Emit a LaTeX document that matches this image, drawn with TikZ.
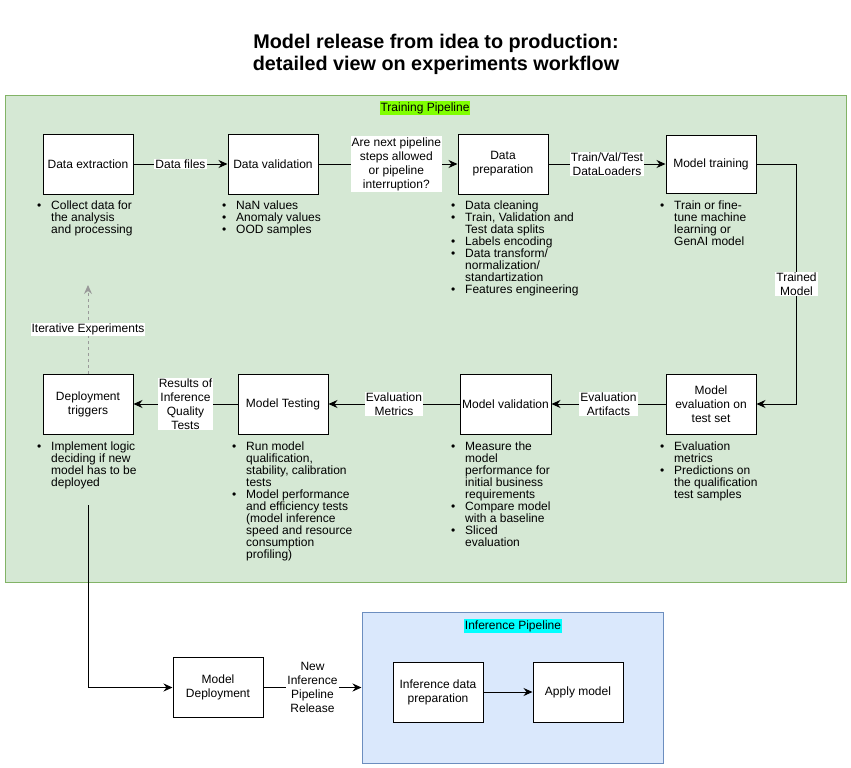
\documentclass[tikz,border=0pt]{standalone}
\usepackage{fontspec}
\setmainfont{Liberation Sans}
\usetikzlibrary{arrows.meta}

\definecolor{trainfill}{HTML}{D5E8D4}
\definecolor{traindraw}{HTML}{82B366}
\definecolor{inferfill}{HTML}{DAE8FC}
\definecolor{inferdraw}{HTML}{6C8EBF}
\definecolor{trainmark}{HTML}{80FF00}
\definecolor{infermark}{HTML}{00FFFF}
\definecolor{iterline}{HTML}{999999}

\newcommand{\bul}{\makebox[14pt][l]{\textbullet}}
\newcommand{\ind}{\hspace*{14pt}}

\tikzset{
    every node/.style={font=\fontsize{12}{14}\selectfont},
    box/.style={draw=black, fill=white, line width=1pt, minimum width=90pt, minimum height=60pt, align=center, inner sep=2pt},
    lbl/.style={fill=white, inner sep=1pt, align=center},
    notes/.style={anchor=north west, align=left, inner sep=0pt, font=\fontsize{12}{12}\selectfont},
    flow/.style={-{Stealth[length=9pt,width=8pt,inset=3pt]}, line width=1pt},
}

\begin{document}
\begin{tikzpicture}[x=1pt,y=-1pt]
        \useasboundingbox (0,0) rectangle (851,768);
        % title
        \node[font=\bfseries\fontsize{19.8}{22}\selectfont, align=center] (title) at (436,54) {Model release from idea to production:\\detailed view on experiments workflow};
        % pipelines
        \node[draw=traindraw, fill=trainfill, line width=1pt, minimum width=841pt, minimum height=487pt, inner sep=0pt] (train) at (425.5,338.5) {};
        \node[draw=inferdraw, fill=inferfill, line width=1pt, minimum width=301.5pt, minimum height=151pt, inner sep=0pt] (infer) at (512.75,687.5) {};
        \node[fill=trainmark, inner sep=1pt] (trainlbl) at (425,108) {Training Pipeline};
        \node[fill=infermark, inner sep=1pt] (inferlbl) at (513,626) {Inference Pipeline};
        % training steps
        \node[box] (extract) at (88,164) {Data extraction};
        \node[box] (valid) at (273,164) {Data validation};
        \node[box] (prep) at (503,164) {Data\\preparation};
        \node[box, minimum height=58pt] (training) at (711,164) {Model training};
        \node[box] (trigger) at (88,404) {Deployment\\triggers};
        \node[box] (testing) at (283,404) {Model Testing};
        \node[box, minimum width=91pt] (mvalid) at (505.5,404) {Model validation};
        \node[box] (evalt) at (711,404) {Model\\evaluation on\\test set};
        % release and inference
        \node[box] (deploy) at (218,687.5) {Model\\Deployment};
        \node[box] (iprep) at (438,692) {Inference data\\preparation};
        \node[box] (apply) at (578,692) {Apply model};
        % notes
        \node[notes] (extractnotes) at (37,200.5) {\bul Collect data for\\\ind the analysis\\\ind and processing};
        \node[notes] (validnotes) at (222,200.5) {\bul NaN values\\\bul Anomaly values\\\bul OOD samples};
        \node[notes] (prepnotes) at (451,200.5) {\bul Data cleaning\\\bul Train, Validation and\\\ind Test data splits\\\bul Labels encoding\\\bul Data transform/\\\ind normalization/\\\ind standartization\\\bul Features engineering};
        \node[notes] (trainingnotes) at (660,200.5) {\bul Train or fine-\\\ind tune machine\\\ind learning or\\\ind GenAI model};
        \node[notes] (triggernotes) at (37,441.5) {\bul Implement logic\\\ind deciding if new\\\ind model has to be\\\ind deployed};
        \node[notes] (testingnotes) at (232,441.5) {\bul Run model\\\ind qualification,\\\ind stability, calibration\\\ind tests\\\bul Model performance\\\ind and efficiency tests\\\ind (model inference\\\ind speed and resource\\\ind consumption\\\ind profiling)};
        \node[notes] (mvalidnotes) at (451,441.5) {\bul Measure the\\\ind model\\\ind performance for\\\ind initial business\\\ind requirements\\\bul Compare model\\\ind with a baseline\\\bul Sliced\\\ind evaluation};
        \node[notes] (evaltnotes) at (660,441.5) {\bul Evaluation\\\ind metrics\\\bul Predictions on\\\ind the qualification\\\ind test samples};
        % connectors
        \coordinate (iterend) at (88,285);
        \coordinate (deploystart) at (88,505);
        \draw[flow] (extract) -- node[lbl] {Data files} (valid);
        \draw[flow] (valid) -- node[lbl, pos=0.56] {Are next pipeline\\steps allowed\\or pipeline\\interruption?} (prep);
        \draw[flow] (prep) -- node[lbl] {Train/Val/Test\\DataLoaders} (training);
        \draw[flow] (training.east) -- ++(40,0) |- node[lbl, pos=0.25] {Trained\\Model} (evalt.east);
        \draw[flow] (evalt) -- node[lbl] {Evaluation\\Artifacts} (mvalid);
        \draw[flow] (mvalid) -- node[lbl] {Evaluation\\Metrics} (testing);
        \draw[flow] (testing) -- node[lbl] {Results of\\Inference\\Quality\\Tests} (trigger);
        \draw[flow, dashed, draw=iterline] (trigger) -- node[lbl] {Iterative Experiments} (iterend);
        \draw[flow] (deploystart) |- (deploy);
        \draw[flow] (deploy) -- node[lbl] {New\\Inference\\Pipeline\\Release} (infer);
        \draw[flow] (iprep) -- (apply);
    \end{tikzpicture}
\end{document}
